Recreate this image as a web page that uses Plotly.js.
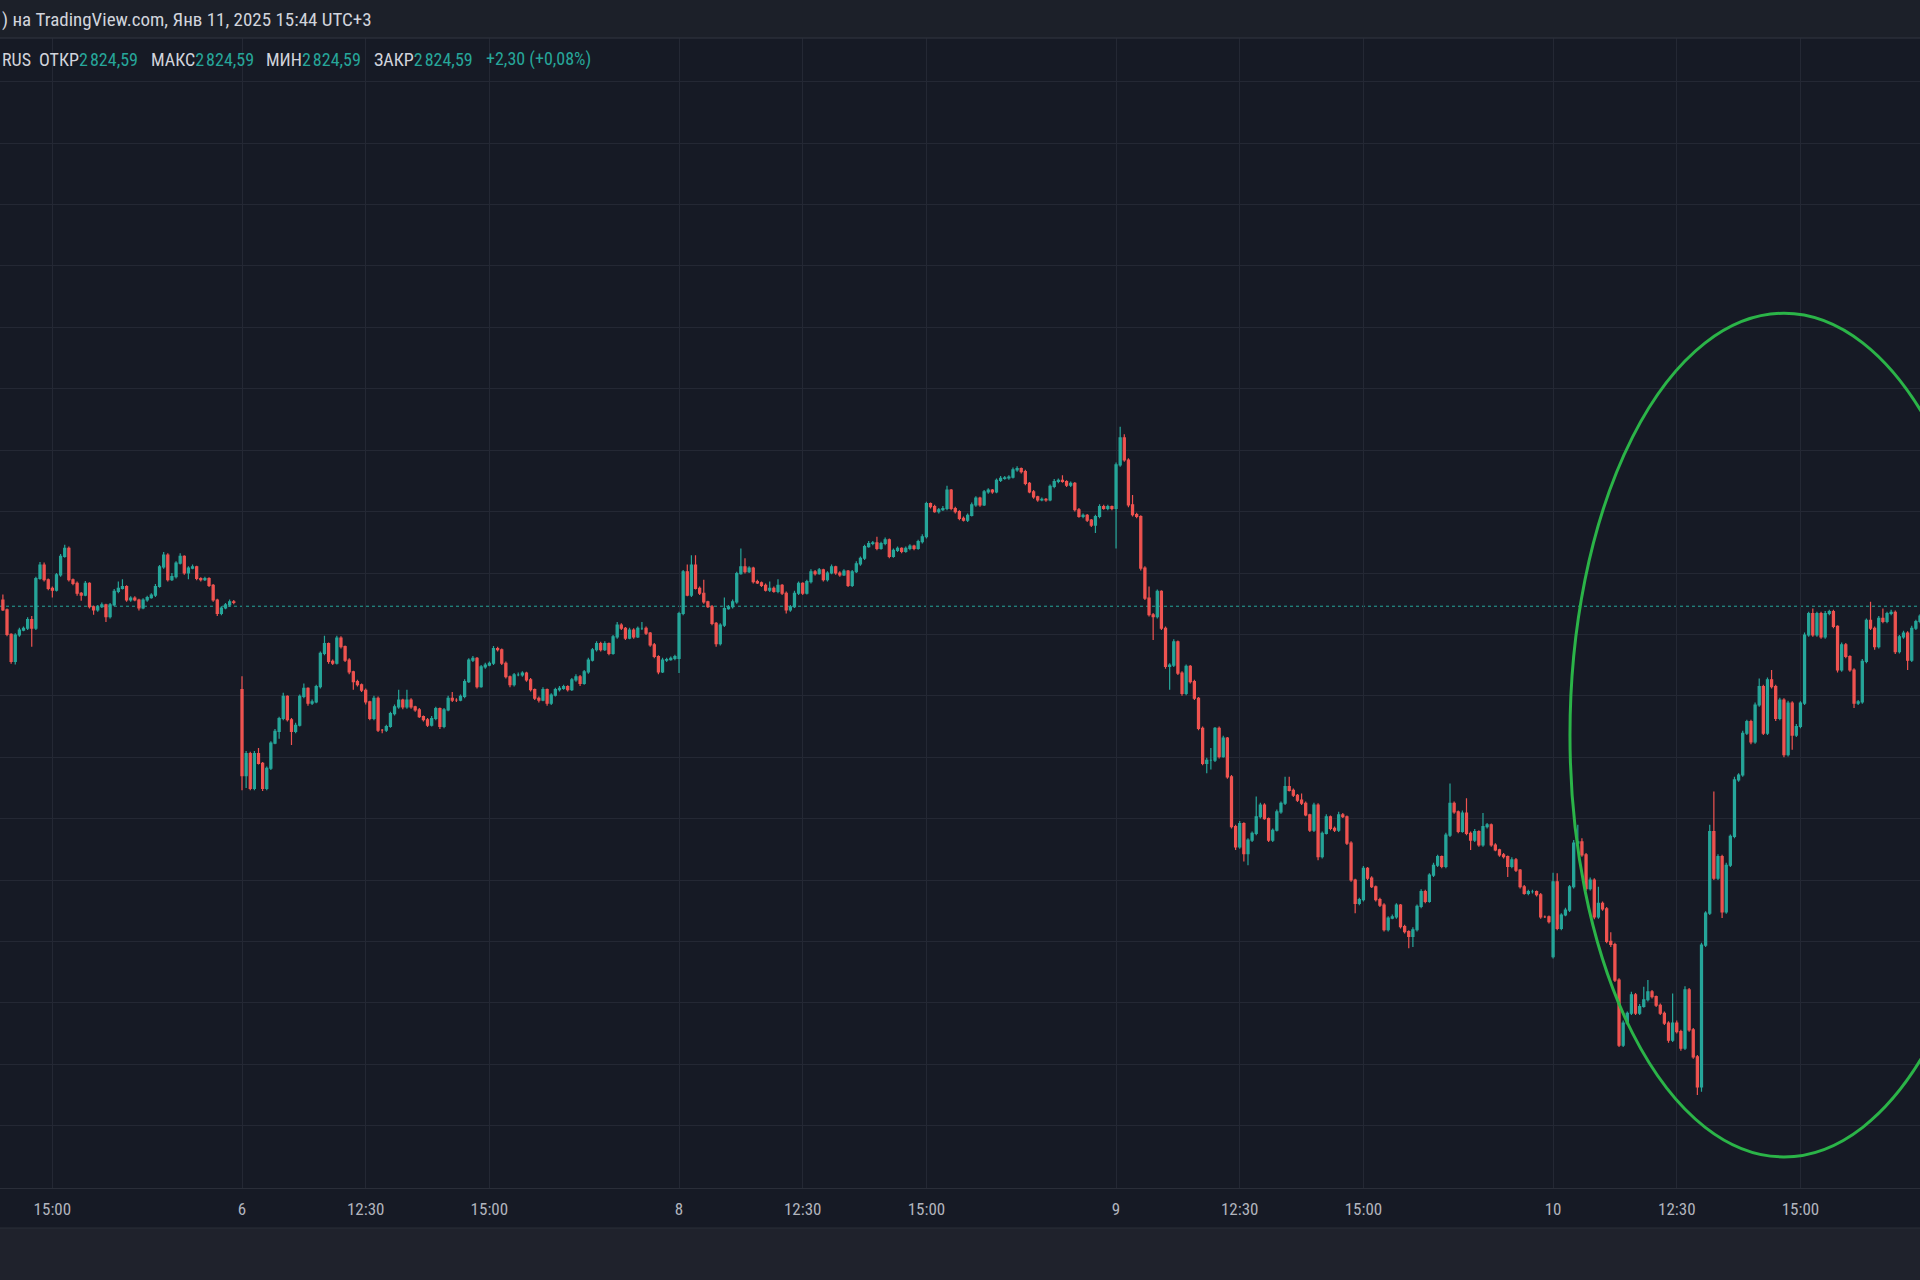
<!DOCTYPE html>
<html>
<head>
<meta charset="utf-8">
<script src="https://cdn.plot.ly/plotly-3.0.1.min.js"></script>
<style>
  html, body { margin: 0; padding: 0; background: #161a25; }
  #chart { width: 1920px; height: 1280px; }
</style>
</head>
<body>
<div id="chart"></div>
<script>
// ---- Data (5-minute candles, index counted from Jan 3 10:00) ----
const sessionNames = ["Jan 3", "Jan 6", "Jan 8", "Jan 9", "Jan 10"];
const sessionFirstIndex = [48, 106, 212, 318, 424];
const sessionOpen = [2825.6, 2811.0, 2816.1, 2840.5, 2767.5];

const closeJan3 = [
 2824.0,2820.0,2815.6,2819.9,2820.7,2821.0,2822.4,2821.0,2829.1,2831.3,
 2828.9,2827.5,2827.2,2829.7,2832.7,2834.0,2828.9,2828.3,2826.7,2826.4,
 2828.3,2824.5,2824.0,2824.5,2824.8,2822.9,2824.8,2827.0,2827.5,2827.8,
 2825.6,2825.9,2825.6,2824.3,2825.6,2826.0,2826.4,2827.8,2831.0,2832.9,
 2828.9,2829.4,2831.6,2832.7,2830.0,2830.8,2831.0,2829.1,2828.9,2829.1,
 2828.0,2825.6,2823.4,2824.3,2824.8,2825.3,2825.2];
const upWickJan3 = [
 0.9,0.2,0.2,0.3,0.4,0.3,0.4,0.6,0.3,0.5,
 0.4,0.2,0.3,0.3,0.4,0.6,0.3,0.2,0.3,0.2,
 0.4,0.2,0.2,0.3,0.4,0.2,0.3,0.4,1.1,1.2,
 0.2,0.3,0.3,0.2,0.3,0.3,0.3,0.4,0.3,0.5,
 0.3,0.6,0.3,0.5,0.2,0.3,0.4,0.2,0.2,0.3,
 0.2,0.2,0.2,0.3,0.3,0.4,0.3];
const lowWickJan3 = [
 0.2,0.3,0.4,0.5,0.3,0.2,0.3,3.0,0.3,0.2,
 0.3,0.3,1.2,0.2,0.3,0.2,0.3,0.3,0.4,0.9,
 0.2,0.3,0.8,0.3,0.2,0.9,0.3,0.2,0.3,0.2,
 0.3,0.3,0.2,0.4,0.2,0.3,0.2,0.3,0.2,0.3,
 0.3,0.2,0.3,0.2,0.3,1.0,0.2,0.3,0.3,0.2,
 0.3,0.3,0.4,0.3,0.2,0.3,0.3];

const closeJan6 = [
 2797.0,2800.6,2794.9,2800.6,2799.0,2794.9,2798.2,2802.3,2804.2,2806.3,
 2809.9,2806.1,2804.2,2805.2,2809.9,2811.2,2808.8,2809.0,2811.5,2816.9,
 2818.5,2815.6,2815.3,2819.4,2818.0,2815.8,2813.9,2812.3,2811.8,2810.9,
 2809.0,2806.3,2809.6,2804.4,2804.4,2805.0,2807.1,2808.2,2809.3,2808.2,
 2809.3,2808.2,2807.7,2806.6,2806.1,2805.2,2806.3,2807.9,2805.0,2807.7,
 2809.6,2809.3,2809.3,2809.9,2812.3,2815.8,2816.1,2811.5,2814.7,2815.0,
 2815.3,2817.7,2817.5,2815.3,2813.1,2811.8,2813.4,2813.4,2813.7,2812.6,
 2811.0,2809.6,2809.3,2811.0,2808.8,2810.1,2811.0,2811.2,2811.5,2811.0,
 2812.6,2813.1,2812.0,2813.9,2815.8,2817.5,2818.5,2817.5,2818.5,2816.9,
 2819.6,2821.5,2821.0,2819.4,2820.7,2819.6,2821.0,2821.0,2820.2,2818.3,
 2816.4,2813.9,2815.8,2815.9,2816.1,2816.4];
const upWickJan6 = [
 2.2,0.4,0.3,0.4,0.9,0.2,0.3,0.3,0.4,0.3,
 0.6,0.2,0.3,0.4,0.3,0.8,0.2,0.4,0.3,0.3,
 1.3,0.2,0.3,0.4,0.3,0.2,0.3,0.2,0.3,0.2,
 0.3,0.2,0.4,0.3,0.2,0.3,0.3,0.4,1.7,0.2,
 1.7,0.3,0.2,0.3,0.2,0.3,0.4,0.3,0.2,0.3,
 0.4,1.0,0.3,0.3,0.4,0.3,0.4,0.2,0.3,0.4,
 0.3,0.4,0.3,0.2,0.3,0.2,0.3,0.4,0.3,0.2,
 0.3,0.2,0.3,0.4,0.2,0.3,0.3,0.4,0.3,0.2,
 0.3,0.4,0.3,0.3,0.4,0.3,0.4,0.3,0.4,0.2,
 0.3,0.5,0.3,0.2,0.4,0.3,0.3,1.0,0.3,0.2,
 0.3,0.2,0.4,0.3,0.3,0.3];
const lowWickJan6 = [
 2.4,2.0,0.3,0.3,0.2,0.4,0.3,0.3,0.2,1.2,
 0.3,0.3,2.2,0.3,0.2,0.3,0.4,0.3,0.2,0.3,
 0.3,0.4,0.3,0.2,0.3,0.3,0.4,1.3,0.3,0.3,
 0.4,0.3,0.3,0.3,0.5,0.3,0.2,0.3,0.3,0.4,
 0.3,0.3,0.3,0.2,0.3,0.3,0.2,0.3,0.4,0.3,
 0.2,0.3,0.3,0.2,0.3,0.2,0.3,0.3,0.2,0.3,
 0.2,0.3,0.3,0.3,0.3,0.4,0.3,0.2,0.3,0.3,
 0.3,0.3,0.4,0.2,0.4,0.3,0.2,0.3,0.2,0.3,
 0.2,0.3,0.4,0.2,0.3,0.2,0.3,0.3,0.2,0.3,
 0.2,0.3,0.3,0.3,0.2,0.3,0.2,0.3,0.3,0.3,
 0.3,0.4,0.2,0.3,0.2,0.3];

const closeJan8 = [
 2823.4,2830.2,2826.4,2831.3,2827.5,2826.7,2825.3,2824.5,2821.8,2818.5,
 2821.5,2824.2,2824.5,2825.3,2829.9,2831.0,2830.2,2830.8,2828.6,2828.4,
 2828.0,2827.2,2827.5,2827.0,2828.0,2826.7,2824.0,2824.5,2826.7,2828.3,
 2826.7,2828.6,2830.2,2829.9,2830.5,2828.9,2830.0,2831.0,2830.0,2829.7,
 2830.3,2828.0,2830.2,2831.5,2832.4,2834.3,2834.8,2834.9,2834.0,2834.8,
 2835.4,2832.7,2833.7,2834.0,2833.5,2834.0,2834.4,2834.0,2835.1,2835.9,
 2841.3,2840.8,2840.0,2840.3,2840.5,2843.5,2840.5,2840.0,2838.9,2838.6,
 2839.4,2841.1,2842.2,2841.1,2843.2,2843.5,2843.2,2845.1,2845.4,2845.5,
 2845.6,2846.8,2847.0,2846.5,2844.6,2843.2,2842.4,2841.9,2842.0,2841.9,
 2844.1,2844.9,2845.1,2844.9,2844.3,2844.6,2840.3,2839.2,2839.4,2838.6,
 2837.8,2839.2,2840.8,2840.5,2840.8,2840.5];
const upWickJan8 = [
 0.3,0.3,1.2,1.6,1.6,0.3,2.2,0.2,0.3,0.2,
 0.3,1.8,0.3,0.4,0.3,3.0,1.4,0.3,0.2,0.3,
 0.2,0.3,1.1,0.3,1.0,0.2,0.3,0.3,0.4,0.3,
 0.2,0.3,0.4,0.3,0.3,0.2,0.3,0.4,0.2,0.3,
 0.3,0.2,0.3,0.4,0.3,0.3,0.4,0.3,1.0,0.3,
 0.4,0.2,0.3,0.3,0.2,0.3,0.3,0.2,0.3,0.4,
 0.3,0.2,0.3,0.3,0.4,0.7,0.2,0.3,0.2,0.3,
 0.3,0.4,0.3,0.2,0.3,0.3,0.2,0.3,0.4,0.3,
 0.3,0.4,0.4,0.2,0.3,0.2,0.3,0.2,0.3,0.2,
 0.3,0.4,0.3,0.8,0.2,0.3,0.2,0.3,0.3,0.2,
 0.2,0.3,0.4,0.3,0.3,0.2];
const lowWickJan8 = [
 2.4,0.3,0.2,0.3,0.2,0.3,0.3,0.2,0.3,0.5,
 0.3,0.3,0.2,0.3,0.3,0.2,0.3,0.2,0.3,0.2,
 0.3,0.2,0.3,0.2,0.3,0.3,0.6,0.3,0.2,0.3,
 0.3,0.2,0.3,0.3,0.2,0.3,0.3,0.2,0.3,0.3,
 0.2,0.3,0.3,0.2,0.3,0.3,0.2,0.3,0.3,0.2,
 0.3,0.3,0.2,0.3,0.3,0.2,0.3,0.3,0.2,0.3,
 0.3,0.3,0.2,0.3,0.2,0.3,0.3,0.3,0.3,0.2,
 0.3,0.2,0.3,0.3,0.2,0.3,0.3,0.2,0.3,0.2,
 0.3,0.2,0.3,0.3,0.3,0.2,0.3,0.3,0.2,0.3,
 0.2,0.3,0.3,0.2,0.3,0.3,0.3,0.2,0.3,0.3,
 0.3,1.3,0.3,0.2,0.3,0.3];

const closeJan9 = [
 2847.6,2852.0,2848.4,2841.1,2839.5,2839.2,2830.8,2825.9,2823.2,2822.9,
 2827.0,2821.0,2814.8,2815.0,2818.8,2813.7,2810.4,2814.8,2812.3,2809.6,
 2804.7,2799.0,2799.5,2799.5,2804.7,2800.1,2803.1,2796.8,2788.7,2785.4,
 2789.2,2784.3,2786.5,2787.6,2790.3,2792.2,2790.0,2786.5,2788.1,2791.1,
 2792.5,2795.2,2794.6,2793.8,2793.0,2792.5,2790.6,2788.1,2792.2,2783.8,
 2787.6,2790.3,2788.4,2788.1,2790.6,2790.3,2786.0,2780.0,2776.2,2776.8,
 2781.9,2780.3,2778.9,2776.8,2775.9,2771.9,2773.8,2774.0,2775.9,2772.4,
 2771.6,2770.8,2771.9,2775.7,2778.1,2776.5,2780.8,2782.4,2783.8,2782.2,
 2787.3,2792.5,2791.1,2787.9,2790.9,2787.6,2786.5,2787.9,2785.7,2788.7,
 2789.0,2785.7,2784.9,2784.1,2783.8,2782.2,2783.3,2781.6,2778.9,2777.8,
 2778.1,2778.1,2777.6,2774.0,2774.0,2773.2];
const upWickJan9 = [
 0.4,1.8,0.6,0.3,1.6,0.3,0.2,0.3,1.9,0.3,
 0.3,0.2,0.3,0.3,0.4,0.2,0.3,0.3,0.2,0.3,
 0.2,0.3,0.4,2.0,0.2,0.3,0.4,0.2,0.3,0.3,
 0.4,0.2,0.3,0.3,3.3,0.4,0.3,0.2,0.3,0.4,
 0.3,1.6,1.6,0.3,0.2,1.1,0.3,0.2,0.4,0.3,
 0.3,0.4,0.2,0.3,0.5,0.3,0.2,0.3,0.2,0.3,
 0.4,0.2,0.3,0.2,0.3,0.3,0.3,0.4,0.3,0.2,
 0.3,0.2,0.4,0.3,0.4,0.3,0.3,0.4,0.3,0.2,
 0.4,3.2,0.3,0.2,0.4,2.4,0.3,0.4,0.2,2.2,
 0.3,0.2,0.3,0.2,0.3,0.2,0.4,0.3,0.2,0.3,
 0.3,0.3,0.2,0.3,0.2,0.2];
const lowWickJan9 = [
 6.5,0.3,0.3,0.4,0.3,0.3,0.4,0.3,0.3,3.8,
 0.3,0.3,0.4,3.8,0.3,0.3,0.4,0.3,0.3,0.3,
 0.3,0.3,1.6,1.5,0.3,0.3,0.2,0.3,0.3,0.5,
 0.3,1.3,1.9,0.3,0.3,0.3,0.2,0.3,0.3,0.2,
 0.3,0.3,0.2,0.3,0.3,0.3,0.2,0.3,0.3,0.6,
 0.3,0.2,0.3,0.3,0.3,0.2,0.3,0.3,1.6,0.3,
 0.3,0.3,0.2,0.3,0.3,0.3,0.3,0.2,0.3,0.3,
 0.3,1.9,1.7,0.3,0.3,0.3,0.2,0.3,0.3,0.3,
 0.3,0.3,0.3,0.3,0.2,0.3,1.6,0.3,0.3,0.3,
 0.3,0.3,0.2,0.3,0.3,1.7,0.3,0.3,0.3,0.2,
 0.3,0.3,0.3,0.3,0.2,0.3];

const closeJan10 = [
 2779.7,2772.1,2774.3,2775.1,2778.9,2786.0,2786.2,2784.1,2778.6,2780.0,
 2774.0,2776.2,2775.3,2770.0,2769.5,2763.7,2753.1,2756.7,2758.3,2761.3,
 2758.3,2759.4,2760.5,2761.8,2761.0,2759.6,2758.3,2756.7,2753.9,2756.7,
 2755.3,2752.6,2762.1,2755.6,2751.2,2746.3,2769.4,2774.6,2787.9,2780.3,
 2783.8,2774.8,2782.4,2787.1,2796.3,2797.1,2803.9,2805.8,2802.5,2808.5,
 2811.5,2803.9,2812.6,2811.5,2806.3,2809.3,2800.4,2808.8,2803.6,2805.0,
 2808.8,2819.9,2823.4,2819.9,2823.4,2819.6,2823.4,2823.7,2821.3,2814.2,
 2818.3,2816.4,2814.2,2808.8,2809.0,2815.6,2822.3,2821.0,2818.0,2822.6,
 2822.1,2823.4,2823.6,2817.2,2819.6,2820.2,2815.8,2821.0,2822.1,2823.0];
const upWickJan10 = [
 1.5,1.4,0.3,0.4,0.3,0.5,2.8,0.6,0.3,0.4,
 0.3,2.7,0.3,0.3,1.5,0.3,0.3,0.4,0.3,0.5,
 0.3,0.4,2.1,1.9,0.3,0.2,0.3,0.3,0.3,4.8,
 0.4,0.3,0.6,0.3,0.3,0.3,0.4,0.3,1.1,6.5,
 0.4,0.3,0.4,0.3,0.5,0.3,0.4,0.3,0.3,0.4,
 1.3,0.3,0.4,1.6,0.3,0.4,0.3,0.4,0.3,0.4,
 0.3,0.4,0.3,0.8,0.3,0.3,0.4,0.3,0.3,0.2,
 0.4,0.3,0.2,0.3,0.3,0.4,0.3,3.0,0.3,0.4,
 1.6,0.3,0.4,0.3,0.3,0.4,0.3,0.4,0.3,0.3];
const lowWickJan10 = [
 0.3,0.3,0.3,0.2,0.3,0.3,0.3,0.3,0.4,0.3,
 0.4,0.3,0.3,0.3,0.4,0.3,0.3,0.3,0.3,0.3,
 0.3,0.3,0.2,0.3,0.3,0.3,0.3,0.3,0.4,0.3,
 0.3,0.4,0.3,0.3,0.3,1.3,0.8,0.3,0.3,0.3,
 0.3,1.0,0.3,0.3,0.3,0.3,0.3,0.3,0.4,0.3,
 0.3,0.3,0.3,0.3,0.4,0.3,0.4,0.3,2.4,0.3,
 0.3,0.3,0.3,0.3,0.3,0.3,0.3,0.3,0.3,0.4,
 0.3,0.3,0.3,0.8,0.3,0.3,0.3,0.3,0.5,0.3,
 0.3,0.3,0.3,0.4,0.3,0.3,1.6,0.3,0.3,0.3];

const tickIndex  = [60, 106, 136, 166, 212, 242, 272, 318, 348, 378, 424, 454, 484];
const tickLabels = ["15:00","6","12:30","15:00","8","12:30","15:00","9","12:30","15:00","10","12:30","15:00"];

const lastPrice = 2824.59;
const legendSymbol = "RUS";
const legendOpen = "2\u202f824,59", legendHigh = "2\u202f824,59", legendLow = "2\u202f824,59", legendClose = "2\u202f824,59";
const legendChange = "+2,30 (+0,08%)";
const headerText = ") на TradingView.com, Янв 11, 2025 15:44 UTC+3";

// ---- Build OHLC from the session arrays ----
const sessionCloses = [closeJan3, closeJan6, closeJan8, closeJan9, closeJan10];
const sessionUp = [upWickJan3, upWickJan6, upWickJan8, upWickJan9, upWickJan10];
const sessionLow = [lowWickJan3, lowWickJan6, lowWickJan8, lowWickJan9, lowWickJan10];

const X = [], O = [], H = [], L = [], C = [];
sessionCloses.forEach((closes, s) => {
  let prev = sessionOpen[s];
  closes.forEach((c, k) => {
    const o = prev;
    X.push(sessionFirstIndex[s] + k);
    O.push(o); C.push(c);
    H.push(Math.max(o, c) + (sessionUp[s][k] || 0));
    L.push(Math.min(o, c) - (sessionLow[s][k] || 0));
    prev = c;
  });
});

// ---- Styling ----
const BG = "#161a25";
const GRID = "#242834";
const UP = "#26a69a";
const DOWN = "#ef5350";
const TXT = "#d1d4dc";
const FONT = "'Liberation Sans Narrow', 'Roboto Condensed', Roboto, 'DejaVu Sans', sans-serif";

const plotH = 1280 - 38 - 92;
const py = fy => (1188 - fy) / plotH;   // page pixel -> paper y
const px = fx => fx / 1920;            // page pixel -> paper x

const trace = {
  type: "candlestick",
  x: X, open: O, high: H, low: L, close: C,
  increasing: { line: { color: UP, width: 1.2 }, fillcolor: UP },
  decreasing: { line: { color: DOWN, width: 1.2 }, fillcolor: DOWN },
  whiskerwidth: 0,
  hoverinfo: "skip",
  showlegend: false
};

function legendPair(label, value, x) {
  return {
    xref: "paper", yref: "paper", x: px(x), y: py(59),
    xanchor: "left", yanchor: "middle", showarrow: false,
    text: label + "<span style='color:" + UP + "'>" + value + "</span>",
    font: { family: FONT, size: 18, color: TXT }
  };
}

const layout = {
  width: 1920, height: 1280,
  margin: { l: 0, r: 0, t: 38, b: 92, pad: 0 },
  paper_bgcolor: BG, plot_bgcolor: BG,
  boxgap: 0.28,
  showlegend: false,
  xaxis: {
    type: "linear",
    range: [47.3, 513.0],
    tickmode: "array", tickvals: tickIndex, ticktext: tickLabels,
    showgrid: true, gridcolor: GRID, gridwidth: 1,
    zeroline: false,
    showline: true, linecolor: "#2a2e39", linewidth: 1,
    ticks: "", ticklabelstandoff: 6,
    tickfont: { family: FONT, size: 17, color: "#b2b5be" },
    rangeslider: { visible: false },
    fixedrange: true
  },
  yaxis: {
    range: [2729.84, 2917.13],
    dtick: 10, tick0: 2730,
    showgrid: true, gridcolor: GRID, gridwidth: 1,
    zeroline: false, showticklabels: false, ticks: "",
    showline: false, fixedrange: true
  },
  shapes: [
    // header bar
    { type: "rect", xref: "paper", yref: "paper", x0: 0, x1: 1, y0: 1, y1: py(0), fillcolor: "#1c2029", line: { width: 0 }, layer: "above" },
    { type: "line", xref: "paper", yref: "paper", x0: 0, x1: 1, y0: 1, y1: 1, line: { color: "#2a2e39", width: 1.5 } },
    // bottom strip
    { type: "rect", xref: "paper", yref: "paper", x0: 0, x1: 1, y0: py(1280), y1: py(1228), fillcolor: "#1f222c", line: { width: 0 } },
    { type: "line", xref: "paper", yref: "paper", x0: 0, x1: 1, y0: py(1228), y1: py(1228), line: { color: "#2a2e39", width: 1 } },
    // last-price line
    { type: "line", xref: "paper", yref: "y", x0: 0, x1: 1, y0: lastPrice, y1: lastPrice, line: { color: UP, width: 1, dash: "dot" }, layer: "below" },
    // green highlight ellipse
    { type: "circle", xref: "x", yref: "y", x0: 428.1, x1: 531.9, y0: 2734.9, y1: 2872.3, line: { color: "#2bb448", width: 3 }, fillcolor: "rgba(0,0,0,0)", layer: "above" }
  ],
  annotations: [
    { xref: "paper", yref: "paper", x: 0, y: py(20), xanchor: "left", yanchor: "middle", showarrow: false,
      text: headerText, font: { family: FONT, size: 19, color: TXT } },
    { xref: "paper", yref: "paper", x: 0, y: py(59), xanchor: "left", yanchor: "middle", showarrow: false,
      text: legendSymbol, font: { family: FONT, size: 18, color: TXT } },
    legendPair("ОТКР", legendOpen, 37),
    legendPair("МАКС", legendHigh, 149),
    legendPair("МИН", legendLow, 264),
    legendPair("ЗАКР", legendClose, 372),
    { xref: "paper", yref: "paper", x: px(484), y: py(59), xanchor: "left", yanchor: "middle", showarrow: false,
      text: legendChange, font: { family: FONT, size: 18, color: UP } }
  ]
};

Plotly.newPlot("chart", [trace], layout, { staticPlot: true, displayModeBar: false });
</script>
</body>
</html>
